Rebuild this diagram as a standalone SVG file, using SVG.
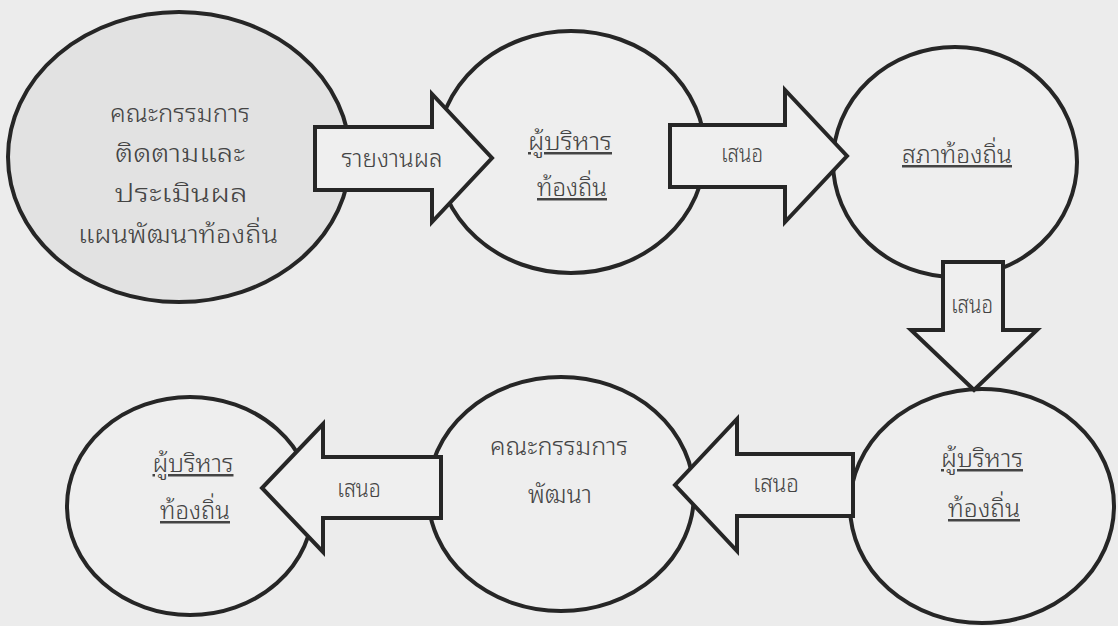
<svg xmlns="http://www.w3.org/2000/svg" width="1118" height="626" viewBox="0 0 1118 626">
<style>
.bg{fill:#ececec}
.node{fill:#eeeeee;stroke:#262626;stroke-width:4}
.node1{fill:#e2e2e2;stroke:#262626;stroke-width:4}
.arrow{fill:#efefef;stroke:#262626;stroke-width:4;stroke-linejoin:miter}
text{font-family:"Noto Sans Thai Looped","Noto Serif Thai","Garuda","Loma","Norasi","Noto Sans Thai","Noto Sans","DejaVu Sans",sans-serif;font-size:25px;font-weight:300;fill:#444444;text-anchor:middle}
.u{text-decoration:underline}
</style>
<rect class="bg" x="0" y="0" width="1118" height="626"/>
<g id="node-monitoring-committee">
<ellipse class="node1" cx="179" cy="157" rx="171" ry="145"/>
<text x="180" y="122" textLength="140" lengthAdjust="spacingAndGlyphs">คณะกรรมการ</text>
<text x="180" y="162" textLength="130" lengthAdjust="spacingAndGlyphs">ติดตามและ</text>
<text x="181" y="202" textLength="133" lengthAdjust="spacingAndGlyphs">ประเมินผล</text>
<text x="178" y="243" textLength="200" lengthAdjust="spacingAndGlyphs">แผนพัฒนาท้องถิ่น</text>
</g>
<g id="node-executive-1">
<ellipse class="node" cx="571" cy="152" rx="134" ry="121"/>
<text class="u" x="570" y="150" textLength="84" lengthAdjust="spacingAndGlyphs">ผู้บริหาร</text>
<text class="u" x="572" y="196" textLength="70" lengthAdjust="spacingAndGlyphs">ท้องถิ่น</text>
</g>
<g id="node-local-council">
<ellipse class="node" cx="955" cy="162" rx="122" ry="115"/>
<text class="u" x="957" y="163" textLength="110" lengthAdjust="spacingAndGlyphs">สภาท้องถิ่น</text>
</g>
<g id="node-executive-2">
<ellipse class="node" cx="982" cy="506" rx="132" ry="117"/>
<text class="u" x="982" y="467" textLength="82" lengthAdjust="spacingAndGlyphs">ผู้บริหาร</text>
<text class="u" x="984" y="517" textLength="72" lengthAdjust="spacingAndGlyphs">ท้องถิ่น</text>
</g>
<g id="node-development-committee">
<ellipse class="node" cx="561" cy="494" rx="133" ry="117"/>
<text x="559" y="455" textLength="138" lengthAdjust="spacingAndGlyphs">คณะกรรมการ</text>
<text x="560" y="503" textLength="64" lengthAdjust="spacingAndGlyphs">พัฒนา</text>
</g>
<g id="node-executive-3">
<ellipse class="node" cx="190" cy="506" rx="123" ry="109"/>
<text class="u" x="193" y="472" textLength="81" lengthAdjust="spacingAndGlyphs">ผู้บริหาร</text>
<text class="u" x="195" y="519" textLength="70" lengthAdjust="spacingAndGlyphs">ท้องถิ่น</text>
</g>
<g id="connectors">
<g id="arrow-report">
<polygon class="arrow" points="315,127 432,127 432,94 492,158 432,222 432,190 315,190"/>
<text x="392" y="167" textLength="101" lengthAdjust="spacingAndGlyphs">รายงานผล</text>
</g>
<g id="arrow-propose-1">
<polygon class="arrow" points="670,125 785,125 785,90 847,156 785,222 785,187 670,187"/>
<text x="742" y="162" textLength="42" lengthAdjust="spacingAndGlyphs">เสนอ</text>
</g>
<g id="arrow-propose-2">
<polygon class="arrow" points="943,262 1003,262 1003,330 1037,330 974,390 911,330 943,330"/>
<text x="972" y="313" textLength="42" lengthAdjust="spacingAndGlyphs">เสนอ</text>
</g>
<g id="arrow-propose-3">
<polygon class="arrow" points="853,454 737,454 737,419 675,485 737,551 737,516 853,516"/>
<text x="776" y="492" textLength="46" lengthAdjust="spacingAndGlyphs">เสนอ</text>
</g>
<g id="arrow-propose-4">
<polygon class="arrow" points="441,457 323,457 323,424 262,488 323,552 323,518 441,518"/>
<text x="359" y="497" textLength="44" lengthAdjust="spacingAndGlyphs">เสนอ</text>
</g>
</g>
</svg>
